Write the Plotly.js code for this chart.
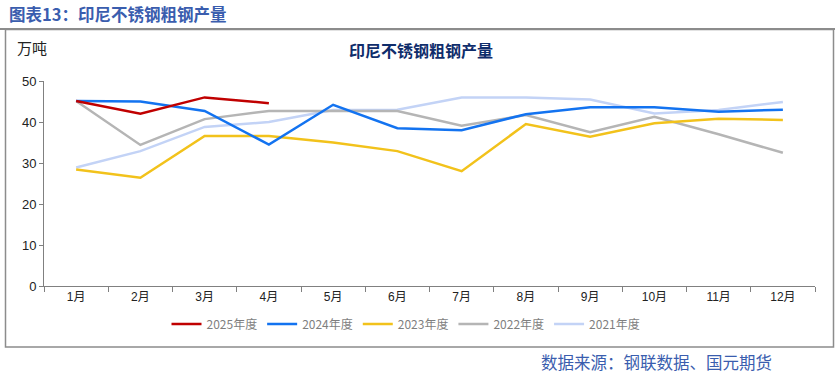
<!DOCTYPE html>
<html>
<head>
<meta charset="utf-8">
<script src="https://cdn.plot.ly/plotly-3.0.1.min.js"></script>
<style>
html,body{margin:0;padding:0;background:#fff;}
#chart{width:835px;height:374px;}
</style>
</head>
<body>
<div id="chart"></div>
<script>
const months = ["1月","2月","3月","4月","5月","6月","7月","8月","9月","10月","11月","12月"];
const seriesNames = ["2025年度","2024年度","2023年度","2022年度","2021年度"];
const y2025 = [45.1, 42.0, 46.0, 44.6];
const y2024 = [45.1, 45.0, 42.7, 34.5, 44.2, 38.5, 38.0, 41.9, 43.6, 43.6, 42.5, 43.0];
const y2023 = [28.4, 26.4, 36.6, 36.6, 35.0, 32.9, 28.0, 39.5, 36.4, 39.7, 40.8, 40.5];
const y2022 = [45.1, 34.4, 40.7, 42.7, 42.7, 42.7, 39.1, 41.7, 37.5, 41.3, 37.0, 32.5];
const y2021 = [28.9, 32.9, 38.8, 40.0, 42.9, 43.0, 46.0, 46.0, 45.5, 42.1, 42.9, 44.9];
const colors = ["#C00000", "#1373F0", "#F2C21B", "#B5B5B5", "#C3D3F6"];

const allY = [y2025, y2024, y2023, y2022, y2021];
const traces = allY.map((ys, i) => ({
  type: "scatter",
  mode: "lines",
  name: seriesNames[i],
  x: months.slice(0, ys.length),
  y: ys,
  line: {color: colors[i], width: 2.5},
  hoverinfo: "x+y+name"
}));
// draw order: older years beneath
traces.reverse();

const layout = {
  width: 835, height: 374,
  margin: {l: 44, r: 20, t: 81, b: 88},
  paper_bgcolor: "#ffffff",
  plot_bgcolor: "#ffffff",
  font: {family: "'Noto Sans CJK SC', 'DejaVu Sans', sans-serif", size: 12, color: "#222"},
  showlegend: true,
  legend: {
    orientation: "h", x: (406-44)/771, xanchor: "center", y: -0.185, yanchor: "middle",
    traceorder: "reversed",
    font: {family: "'Noto Sans CJK SC', 'Liberation Sans', sans-serif", size: 12, color: "#7F7F7F"},
    itemwidth: 30, tracegroupgap: 0, bgcolor: "rgba(0,0,0,0)"
  },
  xaxis: {
    type: "category", categoryorder: "array", categoryarray: months,
    range: [-0.5, 11.5],
    showgrid: false, zeroline: false,
    showline: true, linecolor: "#808080", linewidth: 1,
    ticks: "outside", tickson: "boundaries", ticklen: 5, tickcolor: "#808080",
    tickfont: {family: "'Liberation Sans', 'Noto Sans CJK SC', sans-serif", size: 12, color: "#222"},
    fixedrange: true
  },
  yaxis: {
    range: [0, 50], dtick: 10, tick0: 0,
    showgrid: false, zeroline: false,
    showline: true, linecolor: "#808080", linewidth: 1,
    ticks: "outside", ticklen: 4, tickcolor: "#808080",
    tickfont: {family: "'Liberation Sans', sans-serif", size: 13, color: "#222"},
    fixedrange: true
  },
  shapes: [
    {type: "line", xref: "paper", yref: "paper", x0: -44/771, x1: (835-44)/771, y0: (286-29)/205, y1: (286-29)/205,
     line: {color: "#8C8C8C", width: 2}},
    {type: "rect", xref: "paper", yref: "paper", x0: (5.5-44)/771, x1: (833.5-44)/771, y0: (286-347)/205, y1: (286-29.5)/205,
     line: {color: "#8C8C8C", width: 1.5}, fillcolor: "rgba(0,0,0,0)"}
  ],
  annotations: [
    {text: "<b>图表13：印尼不锈钢粗钢产量</b>", xref: "paper", yref: "paper",
     x: (7-44)/771, xanchor: "left", y: (286-14)/205, yanchor: "middle", showarrow: false,
     font: {family: "'Noto Sans CJK SC', sans-serif", size: 16.5, color: "#3A5DAE"}},
    {text: "<b>印尼不锈钢粗钢产量</b>", xref: "paper", yref: "paper",
     x: (421-44)/771, xanchor: "center", y: (286-50)/205, yanchor: "middle", showarrow: false,
     font: {family: "'Noto Sans CJK SC', sans-serif", size: 16, color: "#0F2D6B"}},
    {text: "万吨", xref: "paper", yref: "paper",
     x: (15-44)/771, xanchor: "left", y: (286-47)/205, yanchor: "middle", showarrow: false,
     font: {family: "'Noto Sans CJK SC', sans-serif", size: 15, color: "#222"}},
    {text: "数据来源：钢联数据、国元期货", xref: "paper", yref: "paper",
     x: (774-44)/771, xanchor: "right", y: (286-362)/205, yanchor: "middle", showarrow: false,
     font: {family: "'Noto Sans CJK SC', sans-serif", size: 16.5, color: "#3A5DAE"}}
  ]
};

Plotly.newPlot("chart", traces, layout, {displayModeBar: false, staticPlot: true});
</script>
</body>
</html>
